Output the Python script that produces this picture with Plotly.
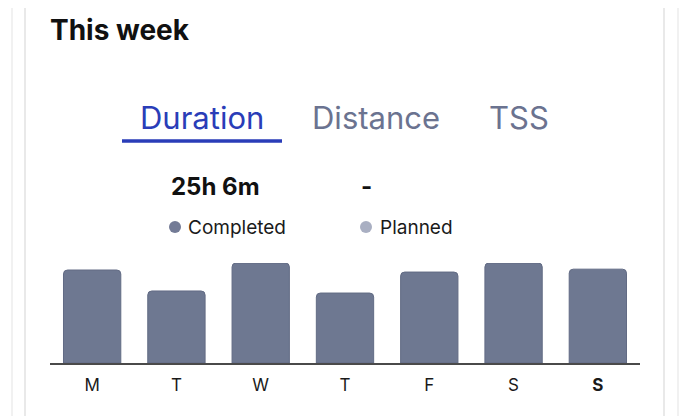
import plotly.graph_objects as go

days = ["M", "T", "W", "T", "F", "S", "S"]
tick_labels = ["M", "T", "W", "T", "F", "S", "<b>S</b>"]
completed_minutes = [226, 175, 243, 170, 221, 243, 228]
tabs = ["Duration", "Distance", "TSS"]
total_completed = "25h 6m"
total_planned = "-"

W, H = 690, 416
OFF = 8  # page body margin offset
FONT = "Inter, Roboto, sans-serif"

def px(x):
    return (x - OFF) / W

def py(y):
    return 1 - (y - OFF) / H

fig = go.Figure()
fig.add_trace(go.Bar(
    x=list(range(len(days))),
    y=completed_minutes,
    marker=dict(color="#6e7891", cornerradius=4,
                line=dict(color="#626b84", width=1)),
    hoverinfo="skip",
))

x0, x1 = 50, 640
base_y, top_y = 363, 263

fig.update_layout(
    width=W, height=H,
    margin=dict(l=0, r=0, t=0, b=0),
    paper_bgcolor="white", plot_bgcolor="white",
    showlegend=False,
    bargap=0.32,
    xaxis=dict(
        domain=[px(x0), px(x1)],
        range=[-0.5, len(days) - 0.5],
        tickvals=list(range(len(days))),
        ticktext=tick_labels,
        tickfont=dict(family=FONT, size=17, color="#1a1a1a"),
        showgrid=False, zeroline=False,
        showline=True, linecolor="#4a4a4a", linewidth=1.5,
        ticks="", ticklabelstandoff=6,
    ),
    yaxis=dict(
        domain=[py(base_y), py(top_y)],
        range=[0, max(completed_minutes)],
        visible=False,
    ),
    font=dict(family=FONT),
)

shapes = []
for xv in [12, 678]:
    shapes.append(dict(type="line", xref="paper", yref="paper",
                       x0=px(xv), x1=px(xv), y0=0, y1=1,
                       line=dict(color="#ececec", width=1.5)))
for xv in [25, 664]:
    shapes.append(dict(type="line", xref="paper", yref="paper",
                       x0=px(xv), x1=px(xv), y0=0, y1=1,
                       line=dict(color="#e2e2e2", width=1.5)))
# tab underline
shapes.append(dict(type="line", xref="paper", yref="paper",
                   x0=px(122), x1=px(282), y0=py(141), y1=py(141),
                   line=dict(color="#2a3db8", width=3.5)))
# legend dots
shapes.append(dict(type="circle", xref="paper", yref="paper",
                   x0=px(169), x1=px(181), y0=py(233), y1=py(221),
                   fillcolor="#737b96", line=dict(width=0)))
shapes.append(dict(type="circle", xref="paper", yref="paper",
                   x0=px(360), x1=px(372), y0=py(233), y1=py(221),
                   fillcolor="#a9afc2", line=dict(width=0)))
fig.update_layout(shapes=shapes)

ann = []
ann.append(dict(text="<b>This week</b>", x=px(48), y=py(30), xanchor="left", yanchor="middle",
                font=dict(family=FONT, size=28, color="#111111")))
tab_x = [202, 376, 519]
tab_col = ["#2a3db8", "#6b7390", "#6b7390"]
for t, xv, c in zip(tabs, tab_x, tab_col):
    ann.append(dict(text=t, x=px(xv), y=py(118), xanchor="center", yanchor="middle",
                    font=dict(family=FONT, size=31, color=c)))
ann.append(dict(text="<b>" + total_completed + "</b>", x=px(215), y=py(186), xanchor="center", yanchor="middle",
                font=dict(family=FONT, size=24, color="#111111")))
ann.append(dict(text="<b>" + total_planned + "</b>", x=px(367), y=py(186), xanchor="center", yanchor="middle",
                font=dict(family=FONT, size=24, color="#111111")))
ann.append(dict(text="Completed", x=px(186), y=py(227), xanchor="left", yanchor="middle",
                font=dict(family=FONT, size=19, color="#1a1a1a")))
ann.append(dict(text="Planned", x=px(378), y=py(227), xanchor="left", yanchor="middle",
                font=dict(family=FONT, size=19, color="#1a1a1a")))
for a in ann:
    a.update(xref="paper", yref="paper", showarrow=False)
fig.update_layout(annotations=ann)

fig.write_html("out.html")
